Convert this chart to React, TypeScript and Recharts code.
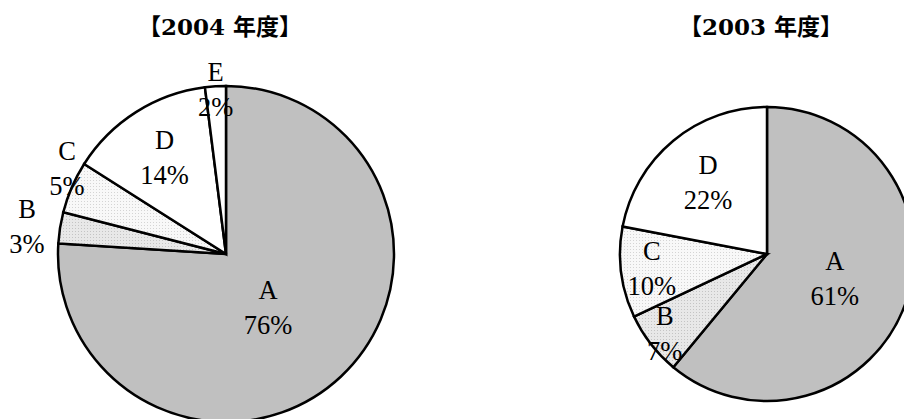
import React from 'react';
import { PieChart, Pie, Cell } from 'recharts';

const categories2004 = ['A', 'B', 'C', 'D', 'E'];
const values2004 = [76, 3, 5, 14, 2];
const categories2003 = ['A', 'B', 'C', 'D'];
const values2003 = [61, 7, 10, 22];

const fills2004 = ['#c0c0c0', 'url(#dotB)', 'url(#dotC)', '#ffffff', '#ffffff'];
const fills2003 = ['#c0c0c0', 'url(#dotB)', 'url(#dotC)', '#ffffff'];
// label placement: distance from centre (share of radius) and angle nudge (deg)
const labelR2004 = [0.407, 1.196, 1.075, 0.683, 0.98];
const labelNudge2004 = [-5.3, 1.1, -4.9, 0, 0];
const labelR2003 = [0.49, 0.88, 0.79, 0.63];
const labelNudge2003 = [0, 0, 0, 0];

const RAD = Math.PI / 180;
const labelFont = "'Liberation Serif', 'DejaVu Serif', serif";

const makeLabel = (factors: number[], nudges: number[]) => (props: any) => {
  const { cx, cy, midAngle, outerRadius, index, name, value } = props;
  const r = outerRadius * factors[index];
  const a = midAngle + nudges[index];
  const x = cx + r * Math.cos(-a * RAD);
  const y = cy + r * Math.sin(-a * RAD);
  return (
    <g>
      <text x={x} y={y - 17.5} textAnchor="middle" dominantBaseline="central" fontSize={26.5} fontFamily={labelFont} fill="#000">
        {name}
      </text>
      <text x={x} y={y + 17.5} textAnchor="middle" dominantBaseline="central" fontSize={26.5} fontFamily={labelFont} fill="#000">
        {value}%
      </text>
    </g>
  );
};

const titleStyle: React.CSSProperties = {
  position: 'absolute',
  top: 12,
  fontSize: 23,
  fontWeight: 600,
  fontFamily: "'DejaVu Serif', 'Noto Sans CJK JP', serif",
  lineHeight: '30px',
  transform: 'translateX(-50%)',
  whiteSpace: 'nowrap',
};

export default function App() {
  const data2004 = categories2004.map((name, i) => ({ name, value: values2004[i] }));
  const data2003 = categories2003.map((name, i) => ({ name, value: values2003[i] }));

  return (
    <div style={{ position: 'absolute', left: 0, top: 0, width: 904, height: 419, background: '#fff' }}>
      <svg width={0} height={0} style={{ position: 'absolute' }}>
        <defs>
          <pattern id="dotB" width={3} height={3} patternUnits="userSpaceOnUse">
            <rect width={3} height={3} fill="#e8e8e8" />
            <rect width={1} height={1} fill="#c4c4c4" />
          </pattern>
          <pattern id="dotC" width={3} height={3} patternUnits="userSpaceOnUse">
            <rect width={3} height={3} fill="#f8f8f8" />
            <rect width={1} height={1} fill="#d4d4d4" />
          </pattern>
        </defs>
      </svg>
      <div style={{ ...titleStyle, left: 220 }}>【2004 年度】</div>
      <div style={{ ...titleStyle, left: 761 }}>【2003 年度】</div>
      <PieChart width={904} height={419} margin={{ top: 0, right: 0, bottom: 0, left: 0 }}>
        <Pie
          data={data2004}
          dataKey="value"
          nameKey="name"
          cx={226}
          cy={254}
          outerRadius={168}
          startAngle={90}
          endAngle={-270}
          stroke="#000"
          strokeWidth={2.5}
          labelLine={false}
          label={makeLabel(labelR2004, labelNudge2004)}
          isAnimationActive={false}
        >
          {data2004.map((d, i) => (
            <Cell key={d.name} fill={fills2004[i]} />
          ))}
        </Pie>
        <Pie
          data={data2003}
          dataKey="value"
          nameKey="name"
          cx={767}
          cy={254}
          outerRadius={147}
          startAngle={90}
          endAngle={-270}
          stroke="#000"
          strokeWidth={2.5}
          labelLine={false}
          label={makeLabel(labelR2003, labelNudge2003)}
          isAnimationActive={false}
        >
          {data2003.map((d, i) => (
            <Cell key={d.name} fill={fills2003[i]} />
          ))}
        </Pie>
      </PieChart>
    </div>
  );
}
